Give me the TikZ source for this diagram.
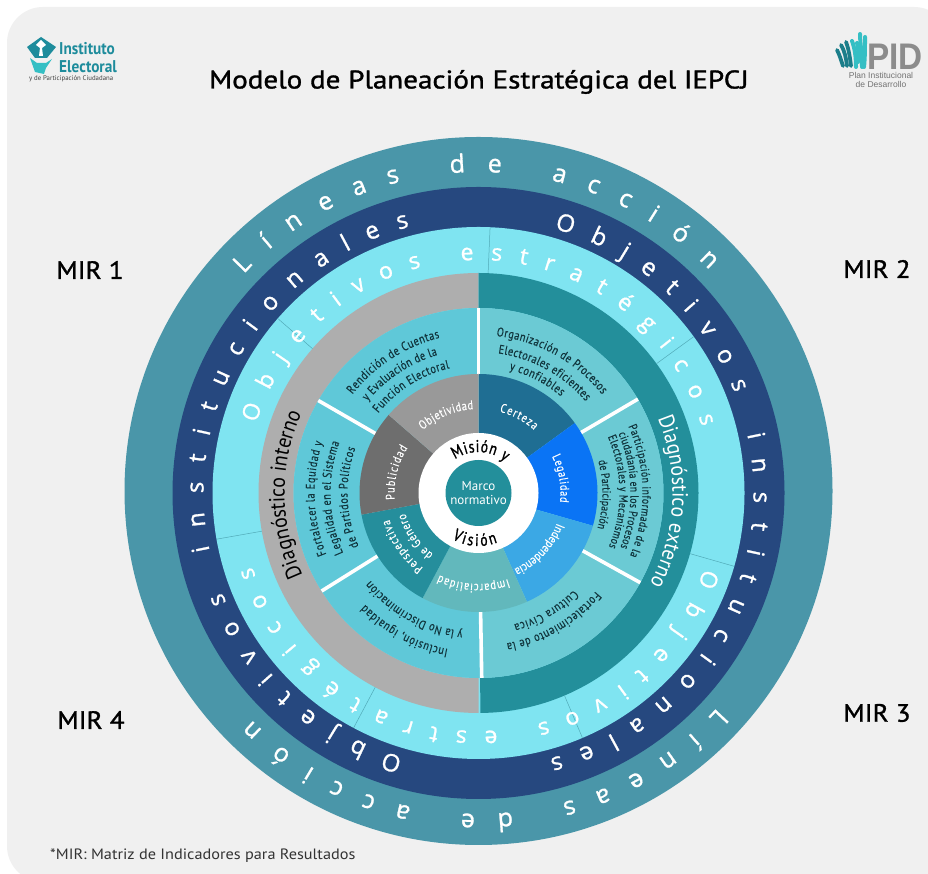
\documentclass[tikz,border=0pt]{standalone}
\usepackage{fontspec}
\usetikzlibrary{calc,decorations.text}
\setmainfont{PT Sans}
\newfontfamily\ringf[FakeBold=1.1]{Open Sans}
\newfontfamily\logof{Liberation Sans}
\newfontfamily\boldf[FakeBold=1.3,FakeStretch=1.08]{PT Sans}
\newfontfamily\titlef[FakeBold=1.3,FakeStretch=1.14]{PT Sans}
\newfontfamily\footf[FakeStretch=1.085]{PT Sans}
\newfontfamily\narrowf[FakeBold=0.25,FakeStretch=0.82]{PT Sans}
\newfontfamily\diagf[FakeStretch=0.9]{PT Sans}
\newfontfamily\arcboldf[FakeBold=1.1,FakeStretch=0.8]{PT Sans}
\newcommand{\fs}[1]{\fontsize{#1}{#1}\selectfont}
\definecolor{bgc}{HTML}{F0F0F0}
\definecolor{outerc}{HTML}{4A96A9}
\definecolor{navyc}{HTML}{26487F}
\definecolor{lightc}{HTML}{7FE4F1}
\definecolor{grayc}{HTML}{AEAEAE}
\definecolor{tealc}{HTML}{238F9B}
\definecolor{segl}{HTML}{5FC8D8}
\definecolor{segr}{HTML}{6BCAD4}
\definecolor{certc}{HTML}{1F6E93}
\definecolor{legc}{HTML}{0A74F5}
\definecolor{indc}{HTML}{3BA8E5}
\definecolor{impc}{HTML}{62B8BC}
\definecolor{perc}{HTML}{258E9C}
\definecolor{pubc}{HTML}{6E6E6E}
\definecolor{objc}{HTML}{999999}
\definecolor{logoc}{HTML}{1E8C9C}
\definecolor{logod}{HTML}{1B7E8A}
\definecolor{logol}{HTML}{35BFC4}
\definecolor{inkc}{HTML}{10343C}
\tikzset{
  thinsep/.style={draw=segl!85!black,line width=0.5pt},
  whitesep/.style={draw=white,line width=3.6pt},
  mirlabel/.style={font=\boldf\fs{25},text=black,anchor=center,inner sep=0pt},
  leafd/.style={draw=logod,line width=3.8pt,line cap=round},
  leafl/.style={draw=logol,line width=4pt,line cap=round},
}
\newcommand{\arctext}[5]{\path[decorate,decoration={text along path,text={|#1|#5},text align=fit to path}] ($(c)+(#3:#2)$) arc[start angle=#3,end angle=#4,radius=#2];}
\newcommand{\annsec}[5]{\fill[#1] ($(c)+(#2:#4)$) arc[start angle=#2,end angle=#3,radius=#4] -- ($(c)+(#3:#5)$) arc[start angle=#3,end angle=#2,radius=#5] -- cycle;}
\newcommand{\radline}[4]{\draw[#1] ($(c)+(#2:#3)$) -- ($(c)+(#2:#4)$);}
\newcommand{\rOuter}{\ringf\fs{25}\color{white}}
\newcommand{\rNavy}{\ringf\fs{24}\color{white}}
\newcommand{\rLight}{\ringf\fs{23}\color{white}}
\newcommand{\seg}{\narrowf\fs{12.5}\color{inkc}}
\newcommand{\segs}{\narrowf\fs{11.8}\color{inkc}}
\newcommand{\inn}{\narrowf\fs{12.5}\color{white}}
\begin{document}
\begin{tikzpicture}[x=1pt,y=1pt]
\useasboundingbox (0,0) rectangle (928,874);
\fill[white] (0,0) rectangle (928,874);
\fill[bgc,rounded corners=36pt] (7,-8) rectangle (950,867);
\coordinate (c) at (478.5,381);
\coordinate (co) at (478.5,383);
% rings
\fill[outerc] (co) circle[radius=354];
\fill[navyc] (c) circle[radius=306];
\fill[lightc] (c) circle[radius=266];
\annsec{grayc}{90}{270}{220}{185}
\annsec{tealc}{90}{-89.5}{220}{185}
% thin separators on the light ring
\foreach \a in {139,87.5,36,-16,-67,-118,190} {\radline{thinsep}{\a}{220}{266}}
% objective segments
\annsec{segl}{90}{150}{185}{118}
\annsec{segl}{150}{212}{185}{118}
\annsec{segl}{212}{271}{185}{118}
\annsec{segr}{-89}{-29}{185}{118}
\annsec{segr}{-29}{30.5}{185}{118}
\annsec{segr}{30.5}{90}{185}{118}
\foreach \a in {90,30.5,-29,-89,212,150} {\radline{whitesep}{\a}{118}{185}}
% inner sectors
\annsec{certc}{90}{36}{119}{58}
\annsec{legc}{36}{-16}{119}{58}
\annsec{indc}{-16}{-66}{119}{58}
\annsec{impc}{-66}{-118}{119}{58}
\annsec{perc}{242}{190.5}{119}{58}
\annsec{pubc}{190.5}{139}{119}{58}
\annsec{objc}{139}{90}{119}{58}
\fill[white] (c) circle[radius=60];
\node[circle,fill=tealc,minimum size=66pt,inner sep=0pt,text=white,align=center,font=\fs{13}] (marco) at (c) {Marco\\[1pt]normativo};
% ring texts
\arctext{\rOuter}{321}{137}{44}{Líneas de acción}
\arctext{\rOuter}{321}{-42}{-135}{Líneas de acción}
\arctext{\rNavy}{275}{74}{-75}{Objetivos institucionales}
\arctext{\rNavy}{275}{254}{104.5}{Objetivos institucionales}
\arctext{\rLight}{233}{162.5}{16.5}{Objetivos estratégicos}
\arctext{\rLight}{238}{-18.5}{-162}{Objetivos estratégicos}
\arctext{\diagf\fs{22}\color{black}}{194}{205}{156.5}{Diagnóstico interno}
\arctext{\diagf\fs{22}\color{white}}{194}{22.5}{-28}{Diagnóstico externo}
% segment texts
\arctext{\seg}{158}{83.5}{38.5}{Organización de Procesos}
\arctext{\seg}{141}{82}{40.5}{Electorales eficientes}
\arctext{\seg}{127}{76}{49.5}{y confiables}
\arctext{\seg}{160}{142}{104}{Rendición de Cuentas}
\arctext{\seg}{144}{140.5}{106.5}{y Evaluación de la}
\arctext{\seg}{128}{141.5}{103}{Función Electoral}
\arctext{\seg}{164}{202}{162}{Fortalecer la Equidad y}
\arctext{\seg}{148}{204}{160}{Legalidad en el Sistema}
\arctext{\seg}{131}{204}{160}{de Partidos Políticos}
\arctext{\seg}{159}{259}{224.5}{Inclusión, igualdad}
\arctext{\seg}{139}{263.5}{219}{y la No Discriminación}
\arctext{\seg}{153}{-40}{-79.5}{Fortalecimiento de la}
\arctext{\seg}{136}{-45.5}{-75}{Cultura Cívica}
\arctext{\segs}{164}{24}{-22.5}{Participación informada de la}
\arctext{\segs}{152}{23}{-21}{ciudadanía en los Procesos}
\arctext{\segs}{141}{23.5}{-22.5}{Electorales y Mecanismos}
\arctext{\segs}{124}{15}{-16.5}{de Participación}
% inner sector texts
\arctext{\inn}{84}{75.5}{48.5}{Certeza}
\arctext{\inn}{82}{26.5}{-6.5}{Legalidad}
\arctext{\inn}{84}{-21}{-64.5}{Independencia}
\arctext{\inn}{91}{-71}{-115.5}{Imparcialidad}
\arctext{\inn}{93}{233.5}{196.5}{Perspectiva}
\arctext{\inn}{76}{233.5}{195.5}{de Género}
\arctext{\inn}{84}{184.5}{147.5}{Publicidad}
\arctext{\inn}{84}{131.5}{93.5}{Objetividad}
\arctext{\arcboldf\fs{17}\color{black}}{41}{125}{50}{Misión y}
\arctext{\arcboldf\fs{17}\color{black}}{53}{240}{291}{Visión}
% labels
\node[font=\titlef\fs{25.5},text=black,inner sep=0pt] (title) at (479,792) {Modelo de Planeación Estratégica del IEPCJ};
\node[mirlabel] (mir1) at (90,604) {MIR 1};
\node[mirlabel] (mir2) at (877,605) {MIR 2};
\node[mirlabel] (mir3) at (877,161) {MIR 3};
\node[mirlabel] (mir4) at (91,154) {MIR 4};
\node[font=\footf\fs{15},text=black!80,inner sep=0pt,anchor=west] (foot) at (50,18) {*MIR: Matriz de Indicadores para Resultados};
% left logo
\fill[logoc] (27,827) -- (41,837) -- (56,827) -- (47,816) -- (35,816) -- cycle;
\fill[white] (41,834) -- (46,829) -- (42,826) -- (43,818) -- (39,818) -- (40,826) -- (36,829) -- cycle;
\fill[logol] (30,816) -- (37,811) -- (46,811) -- (52,815) -- (46,806) -- (44,800) -- (35,802) -- cycle;
\node[font=\bfseries\fs{17},text=logoc,anchor=west,inner sep=0pt,xscale=0.9,transform shape] (inst) at (59,825) {Instituto};
\node[font=\bfseries\fs{17},text=logoc,anchor=west,inner sep=0pt,xscale=0.9,transform shape] (elec) at (59,807) {Electoral};
\node[font=\fs{6.8},text=black!75,anchor=west,inner sep=0pt] (part) at (29,795.5) {y de Participación Ciudadana};
% right logo
\draw[leafd] (843,808) .. controls (841,814) and (840,818) .. (837,824);
\draw[leafd] (847,808) .. controls (846,816) and (845,822) .. (841,829);
\draw[leafd] (851,808) .. controls (850,816) and (849,824) .. (846,832);
\draw[leafl] (856,807) .. controls (856,816) and (855,825) .. (852,833);
\draw[leafl] (862,807) .. controls (862,820) and (860,832) .. (860,840);
\draw[leafl] (864,807) .. controls (865,816) and (865,828) .. (865,837);
\draw[leafl] (858,812) .. controls (859,820) and (858,828) .. (857,831);
\node[font=\logof\bfseries\fs{37},text=black!45,anchor=west,inner sep=0pt,xscale=0.9,transform shape] (pid) at (867,817) {PID};
\node[font=\logof\fs{8.5},text=black!55,align=center,inner sep=0pt] (plan) at (881,794) {Plan Institucional\\[1pt]de Desarrollo};
\end{tikzpicture}
\end{document}
